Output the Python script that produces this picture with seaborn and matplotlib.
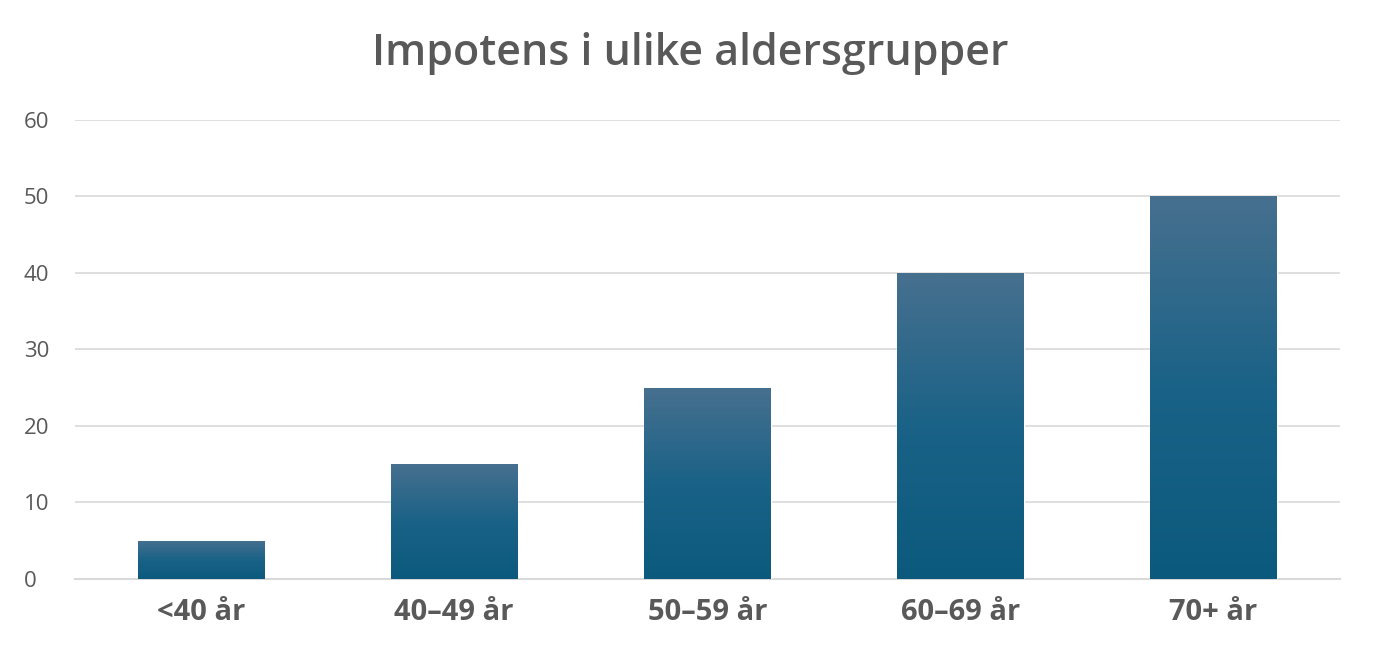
import matplotlib
matplotlib.use("Agg")
import matplotlib.pyplot as plt
import seaborn as sns
import numpy as np
import pandas as pd
from matplotlib.colors import LinearSegmentedColormap

categories = ["<40 år", "40–49 år", "50–59 år", "60–69 år", "70+ år"]
values = [5, 15, 25, 40, 50]
yticks = [0, 10, 20, 30, 40, 50, 60]

sns.set_theme(style="white")
plt.rcParams['font.family'] = ['Open Sans', 'DejaVu Sans']

fig = plt.figure(figsize=(13.8, 6.7), dpi=100)
ax = fig.add_axes([0.054, 0.136, 0.917, 0.685])
df = pd.DataFrame({"cat": categories, "val": values})
sns.barplot(data=df, x="cat", y="val", ax=ax, width=0.5, color="#0b5a7d", zorder=3)

cmap = LinearSegmentedColormap.from_list("g", ["#0b5a7d", "#1a6287", "#47708f"])
grad = np.linspace(0, 1, 256).reshape(-1, 1)
for p in ax.patches:
    x0, y0 = p.get_x(), p.get_y()
    w, h = p.get_width(), p.get_height()
    im = ax.imshow(grad, extent=[x0, x0 + w, y0, y0 + h], origin="lower",
                   cmap=cmap, aspect="auto", zorder=4)
    im.set_clip_path(p)
    p.set_facecolor("none")

ax.set_xlim(-0.5, 4.5)
ax.set_ylim(0, 60)
ax.set_yticks(yticks)
ax.yaxis.grid(True, color="#d9d9d9", linewidth=1.2, zorder=0)
for s in ["top", "right", "left"]:
    ax.spines[s].set_visible(False)
ax.spines["bottom"].set_color("#d9d9d9")
ax.spines["bottom"].set_linewidth(1.5)
ax.set_xlabel("")
ax.set_ylabel("")
ax.tick_params(axis="y", labelsize=16, labelcolor="#595959", length=0, pad=28)
ax.tick_params(axis="x", labelsize=21, labelcolor="#595959", length=0, pad=14)
for t in ax.get_xticklabels():
    t.set_fontweight("bold")
for t in ax.get_yticklabels():
    t.set_horizontalalignment("left")
    t.set_x(-0.04)
ax.yaxis.set_tick_params(pad=0)
fig.text(0.5, 0.92, "Impotens i ulike aldersgrupper", ha="center", va="center",
         fontsize=31, color="#595959", fontweight="semibold")
fig.savefig("out.png", dpi=100)
